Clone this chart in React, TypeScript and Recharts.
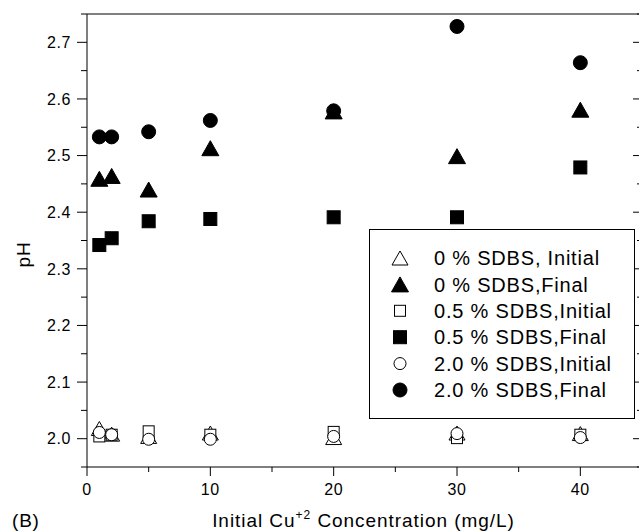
import React from 'react';
import { ScatterChart, Scatter, XAxis, YAxis, Legend } from 'recharts';

// Initial Cu+2 concentration (mg/L)
const concentrations = [1, 2, 5, 10, 20, 30, 40];

// pH values
const sdbs0Initial = [2.018, 2.008, 2.004, 2.01, 2.002, 2.01, 2.009];
const sdbs0Final = [2.459, 2.464, 2.44, 2.513, 2.578, 2.499, 2.581];
const sdbs05Initial = [2.004, 2.007, 2.013, 2.007, 2.012, 2.001, 2.007];
const sdbs05Final = [2.342, 2.354, 2.384, 2.388, 2.391, 2.391, 2.479];
const sdbs20Initial = [2.011, 2.007, 1.999, 1.999, 2.004, 2.009, 2.002];
const sdbs20Final = [2.533, 2.533, 2.542, 2.562, 2.579, 2.728, 2.664];

const seriesNames = [
  '0 % SDBS, Initial',
  '0 % SDBS,Final',
  '0.5 % SDBS,Initial',
  '0.5 % SDBS,Final',
  '2.0 % SDBS,Initial',
  '2.0 % SDBS,Final',
];

const xTicks = [0, 5, 10, 15, 20, 25, 30, 35, 40, 45];
const yTicks = [1.95, 2.0, 2.05, 2.1, 2.15, 2.2, 2.25, 2.3, 2.35, 2.4, 2.45, 2.5, 2.55, 2.6, 2.65, 2.7, 2.75];

const FONT = '"Liberation Sans", Arial, Helvetica, sans-serif';

type Kind = 'triangle' | 'square' | 'circle';

const seriesDefs: { name: string; values: number[]; kind: Kind; filled: boolean }[] = [
  { name: seriesNames[0], values: sdbs0Initial, kind: 'triangle', filled: false },
  { name: seriesNames[1], values: sdbs0Final, kind: 'triangle', filled: true },
  { name: seriesNames[2], values: sdbs05Initial, kind: 'square', filled: false },
  { name: seriesNames[3], values: sdbs05Final, kind: 'square', filled: true },
  { name: seriesNames[4], values: sdbs20Initial, kind: 'circle', filled: false },
  { name: seriesNames[5], values: sdbs20Final, kind: 'circle', filled: true },
];

function Marker({ cx, cy, kind, filled }: { cx: number; cy: number; kind: Kind; filled: boolean }) {
  const fill = filled ? '#000' : '#fff';
  const stroke = '#000';
  if (kind === 'triangle') {
    const w = filled ? 17 : 16;
    const h = filled ? 15 : 14;
    const pts = `${cx},${cy - h / 2} ${cx + w / 2},${cy + h / 2} ${cx - w / 2},${cy + h / 2}`;
    return <polygon points={pts} fill={fill} stroke={stroke} strokeWidth={1} />;
  }
  if (kind === 'square') {
    const s = filled ? 13 : 11;
    return <rect x={cx - s / 2} y={cy - s / 2} width={s} height={s} fill={fill} stroke={stroke} strokeWidth={1} />;
  }
  const r = filled ? 7 : 6;
  return <circle cx={cx} cy={cy} r={r} fill={fill} stroke={stroke} strokeWidth={1} />;
}

const isMajorX = (v: number) => Math.round(v) % 10 === 0;
const isMajorY = (v: number) => Math.round(v * 100) % 10 === 0;

const BottomTick = (props: any) => {
  const { x, y, payload } = props;
  const v = payload.value;
  const major = isMajorX(v);
  return (
    <g>
      <line x1={x} y1={y} x2={x} y2={y + (major ? 9 : 5)} stroke="#000" strokeWidth={1} />
      {major && (
        <text x={x} y={y + 28} textAnchor="middle" fontSize={16} fill="#000" style={{ fontFamily: FONT, letterSpacing: 0.6 }}>
          {v}
        </text>
      )}
    </g>
  );
};

const TopTick = (props: any) => {
  const { x, y, payload } = props;
  const major = isMajorX(payload.value);
  return <line x1={x} y1={y} x2={x} y2={y + (major ? 9 : 5)} stroke="#000" strokeWidth={1} />;
};

const LeftTick = (props: any) => {
  const { x, y, payload } = props;
  const v = payload.value;
  const major = isMajorY(v);
  return (
    <g>
      <line x1={x - (major ? 10 : 6)} y1={y} x2={x} y2={y} stroke="#000" strokeWidth={1} />
      {major && (
        <text x={x - 16} y={y + 5.7} textAnchor="end" fontSize={16} fill="#000" style={{ fontFamily: FONT, letterSpacing: 0.6 }}>
          {v.toFixed(1)}
        </text>
      )}
    </g>
  );
};

const RightTick = (props: any) => {
  const { x, y, payload } = props;
  const major = isMajorY(payload.value);
  return <line x1={x - (major ? 9 : 5)} y1={y} x2={x} y2={y} stroke="#000" strokeWidth={1} />;
};

const XTitle = (props: any) => {
  const vb = props.viewBox || { x: 87, y: 467, width: 555, height: 65 };
  const cx = vb.x + vb.width / 2;
  const base = vb.y + 60;
  return (
    <g>
      <text x={vb.x - 75} y={base} fontSize={19} fill="#000" style={{ fontFamily: FONT, letterSpacing: 0.8 }}>
        (B)
      </text>
      <text x={cx - 1} y={base} textAnchor="middle" fontSize={19} fill="#000" style={{ fontFamily: FONT, letterSpacing: 0.95 }}>
        <tspan>Initial Cu</tspan>
        <tspan fontSize={12} dy={-8}>+2</tspan>
        <tspan dy={8}> Concentration (mg/L)</tspan>
      </text>
    </g>
  );
};

const YTitle = (props: any) => {
  const vb = props.viewBox || { x: 0, y: 14, width: 87, height: 453 };
  const x = vb.x + 30;
  const y = vb.y + vb.height / 2 + 14;
  return (
    <text
      x={x}
      y={y}
      transform={`rotate(-90, ${x}, ${y})`}
      textAnchor="middle"
      fontSize={19}
      fill="#000"
      style={{ fontFamily: FONT, letterSpacing: 0.8 }}
    >
      pH
    </text>
  );
};

const LegendBox = () => {
  const rowH = 26.4;
  return (
    <svg width={266} height={190} style={{ display: 'block' }}>
      <rect x={0.5} y={0.5} width={265} height={189} fill="#fff" stroke="#000" strokeWidth={1} />
      {seriesDefs.map((s, i) => {
        const cy = 29 + i * rowH;
        return (
          <g key={s.name}>
            <Marker cx={31} cy={cy} kind={s.kind} filled={s.filled} />
            <text x={65} y={cy + 7.2} fontSize={20} fill="#000" style={{ fontFamily: FONT, letterSpacing: 0.8 }}>
              {s.name}
            </text>
          </g>
        );
      })}
    </svg>
  );
};

export default function App() {
  return (
    <div
      style={{
        position: 'absolute',
        left: 0,
        top: 0,
        width: 639,
        height: 532,
        overflow: 'hidden',
        background: '#fff',
      }}
    >
      <ScatterChart width={660} height={532} margin={{ top: 13, right: 17, bottom: 0, left: 0 }}>
        <XAxis
          xAxisId={0}
          dataKey="x"
          type="number"
          domain={[0, 45]}
          allowDataOverflow
          ticks={xTicks}
          interval={0}
          height={65}
          tickSize={0}
          tickMargin={0}
          tickLine={false}
          tick={BottomTick}
          axisLine={{ stroke: '#000', strokeWidth: 1 }}
          label={<XTitle />}
        />
        <XAxis
          xAxisId="top"
          orientation="top"
          type="number"
          domain={[0, 45]}
          allowDataOverflow
          ticks={xTicks}
          interval={0}
          height={1}
          tickSize={0}
          tickMargin={0}
          tickLine={false}
          tick={TopTick}
          axisLine={{ stroke: '#000', strokeWidth: 1 }}
        />
        <YAxis
          yAxisId={0}
          dataKey="y"
          type="number"
          domain={[1.95, 2.75]}
          allowDataOverflow
          ticks={yTicks}
          interval={0}
          width={87}
          tickSize={0}
          tickMargin={0}
          tickLine={false}
          tick={LeftTick}
          axisLine={{ stroke: '#000', strokeWidth: 1 }}
          label={<YTitle />}
        />
        <YAxis
          yAxisId="right"
          orientation="right"
          type="number"
          domain={[1.95, 2.75]}
          allowDataOverflow
          ticks={yTicks}
          interval={0}
          width={1}
          tickSize={0}
          tickMargin={0}
          tickLine={false}
          tick={RightTick}
          axisLine={{ stroke: '#000', strokeWidth: 1 }}
        />
        {seriesDefs.map((s) => (
          <Scatter
            key={s.name}
            name={s.name}
            xAxisId={0}
            yAxisId={0}
            data={concentrations.map((c, i) => ({ x: c, y: s.values[i] }))}
            isAnimationActive={false}
            shape={(p: any) => <Marker cx={p.cx} cy={p.cy} kind={s.kind} filled={s.filled} />}
          />
        ))}
        <Legend
          layout="vertical"
          align="center"
          verticalAlign="middle"
          content={<LegendBox />}
          wrapperStyle={{ left: 369, top: 229, width: 266, height: 190 }}
        />
      </ScatterChart>
    </div>
  );
}
